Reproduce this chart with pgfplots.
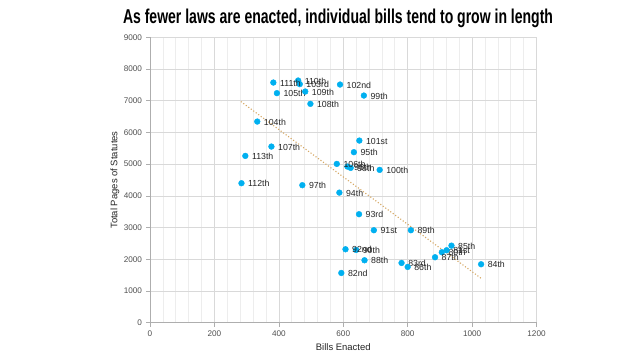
\documentclass[border=0pt]{standalone}
\usepackage{pgfplots}
\pgfplotsset{compat=1.18}
\usepackage{pgfplotstable}
\usepackage{fontspec}
\setmainfont{Liberation Sans}
\newfontfamily\titlefont{Liberation Sans}
\definecolor{dotblue}{HTML}{00B0F0}
\definecolor{trend}{HTML}{D6A864}
\definecolor{gridmaj}{HTML}{D9D9D9}
\definecolor{gridmin}{HTML}{EDEDED}
\definecolor{ticktxt}{HTML}{505050}
\definecolor{lbltxt}{HTML}{262626}

\pgfplotstableread{
x y label
906 2222 80th
921 2285 81st
594 1568 82nd
781 1884 83rd
1028 1843 84th
936 2430 85th
800 1758 86th
885 2064 87th
666 1969 88th
810 2916 89th
640 2294 90th
695 2916 91st
607 2316 92nd
649 3421 93rd
588 4102 94th
633 5377 95th
613 4923 96th
473 4336 97th
623 4882 98th
664 7163 99th
713 4819 100th
650 5743 101st
590 7510 102nd
465 7523 103rd
333 6343 104th
394 7239 105th
580 5008 106th
377 5554 107th
498 6901 108th
482 7290 109th
460 7637 110th
383 7573 111th
284 4399 112th
296 5260 113th
}\congress

\begin{document}
\begin{tikzpicture}
\path[use as bounding box, fill=white] (0,0) rectangle (640bp,360bp);
\node[anchor=base, inner sep=0] at (338bp,336bp)
  {\resizebox{430bp}{14.5bp}{\titlefont\bfseries As fewer laws are enacted, individual bills tend to grow in length}};
\begin{axis}[
  at={(150bp,37.3bp)}, anchor=south west,
  scale only axis, width=386.5bp, height=285.4bp,
  xmin=0, xmax=1200, ymin=0, ymax=9000,
  xtick={0,200,...,1200}, ytick={0,1000,...,9000},
  minor x tick num=4,
  grid=both,
  major grid style={gridmaj, line width=0.6bp},
  minor grid style={gridmin, line width=0.6bp},
  axis x line*=bottom, axis y line*=left,
  axis line style={draw=gridmaj!80!black, line width=0.6bp},
  tick align=outside,
  major tick length=4bp, minor tick length=0bp,
  tick style={gridmaj!80!black, line width=0.6bp},
  /pgf/number format/assume math mode=true,
  /pgf/number format/1000 sep={},
  ticklabel style={font=\fontsize{8.2}{9}\selectfont, text=ticktxt},
  xticklabel style={yshift=-1bp},
  yticklabel style={xshift=-0.5bp},
  xlabel={Bills Enacted},
  ylabel={Total Pages of Statutes},
  every axis x label/.style={at={(axis description cs:0.5,-0.0852)}, anchor=center, font=\fontsize{9.5}{11}\selectfont, text=lbltxt},
  every axis y label/.style={at={(axis description cs:-0.0906,0.5)}, rotate=90, anchor=center, font=\fontsize{9.5}{11}\selectfont, text=lbltxt},
  clip=false,
]
\addplot[trend, line width=1.1bp, dotted] coordinates {(282,6974) (1032,1370)};
\addplot[color=dotblue, only marks, mark=*, mark size=2.9bp, mark options={draw=dotblue, fill=dotblue},
  nodes near coords, point meta=explicit symbolic,
  every node near coord/.append style={anchor=west, inner sep=0, xshift=6.5bp, yshift=-0.5bp, font=\fontsize{8.8}{10}\selectfont, text=lbltxt}]
  table[x=x, y=y, meta=label] {\congress};
\end{axis}
\end{tikzpicture}
\end{document}
